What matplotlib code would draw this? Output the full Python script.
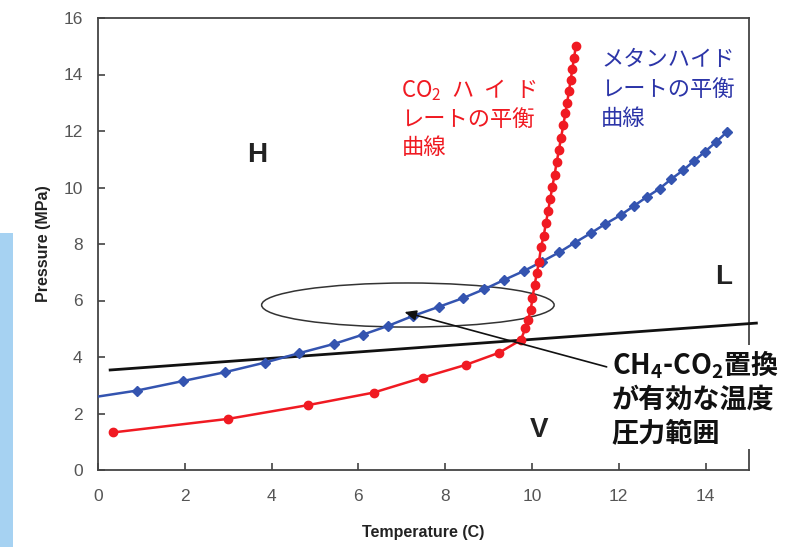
import matplotlib
matplotlib.use("Agg")
import matplotlib.pyplot as plt
from matplotlib.patches import Ellipse, Rectangle

plt.rcParams['font.family'] = ['Liberation Sans', 'Noto Sans CJK JP', 'DejaVu Sans']
plt.rcParams['mathtext.fontset'] = 'custom'
plt.rcParams['mathtext.rm'] = 'Noto Sans CJK JP'
plt.rcParams['mathtext.it'] = 'Noto Sans CJK JP'
plt.rcParams['mathtext.bf'] = 'Noto Sans CJK JP:bold'
plt.rcParams['mathtext.default'] = 'rm'

# ---- data ----
ch4_T = [0.0, 0.89, 1.96, 2.92, 3.84, 4.62, 5.43, 6.10, 6.68, 7.25, 7.86, 8.40, 8.90,
         9.36, 9.82, 10.22, 10.62, 10.99, 11.35, 11.69, 12.04, 12.36, 12.65, 12.94,
         13.21, 13.49, 13.74, 13.98, 14.24, 14.49]
ch4_P = [2.60, 2.81, 3.15, 3.46, 3.80, 4.13, 4.46, 4.79, 5.10, 5.45, 5.78, 6.08, 6.40,
         6.73, 7.05, 7.37, 7.70, 8.05, 8.38, 8.71, 9.02, 9.36, 9.67, 9.96,
         10.30, 10.62, 10.95, 11.26, 11.61, 11.96]

co2_T = [0.35, 3.00, 4.85, 6.35, 7.48, 8.47, 9.24, 9.74, 9.85, 9.91, 9.97, 10.01, 10.06,
         10.11, 10.16, 10.21, 10.27, 10.32, 10.37, 10.42, 10.47, 10.52, 10.57, 10.62,
         10.67, 10.72, 10.77, 10.81, 10.85, 10.89, 10.93, 10.97, 11.01]
co2_P = [1.33, 1.81, 2.30, 2.74, 3.27, 3.72, 4.15, 4.60, 5.02, 5.31, 5.66, 6.08, 6.55,
         6.96, 7.37, 7.90, 8.30, 8.73, 9.16, 9.60, 10.03, 10.46, 10.90, 11.33,
         11.76, 12.20, 12.63, 13.00, 13.40, 13.80, 14.20, 14.60, 15.00]

boundary_T = [0.28, 15.17]
boundary_P = [3.54, 5.20]

x_ticks = [0, 2, 4, 6, 8, 10, 12, 14]
y_ticks = [0, 2, 4, 6, 8, 10, 12, 14, 16]

co2_label = "CO$_2$  ハ  イ  ド\nレートの平衡\n曲線"
ch4_label = "メタンハイド\nレートの平衡\n曲線"
note_label = "CH$_\\mathbf{4}$-CO$_\\mathbf{2}$置換\nが有効な温度\n圧力範囲"

RED = '#f01a22'
BLUE = '#3454b0'
CJK = 'Noto Sans CJK JP'

fig = plt.figure(figsize=(8.0, 5.47), dpi=100)
fig.patches.append(Rectangle((0, 0), 13 / 800, (547 - 233) / 547, transform=fig.transFigure,
                             facecolor='#a6d2f2', edgecolor='none', zorder=0))
ax = fig.add_axes([98 / 800, 1 - 470 / 547, (749 - 98) / 800, (470 - 18) / 547])

ax.set_xlim(0, 15)
ax.set_ylim(0, 16)

# boundary line
ax.plot(boundary_T, boundary_P, color='#111111', lw=2.0, clip_on=False, zorder=3)

# methane hydrate curve
ax.plot(ch4_T, ch4_P, color=BLUE, lw=1.8, marker='D', ms=4.6, mfc=BLUE, mec=BLUE,
        markevery=list(range(1, len(ch4_T))), zorder=4)
# CO2 hydrate curve
ax.plot(co2_T, co2_P, color=RED, lw=1.8, marker='o', ms=6.0, mfc=RED, mec=RED, zorder=5)

# ellipse
ax.add_patch(Ellipse((7.14, 5.84), 6.74, 1.56, fill=False, ec='#333333', lw=1.1, zorder=2))

# arrow
ax.annotate('', xy=(7.06, 5.59), xytext=(11.72, 3.65),
            arrowprops=dict(arrowstyle='-|>,head_length=0.7,head_width=0.3',
                            color='#111111', lw=1.2, shrinkA=0, shrinkB=0), zorder=6)

# labels
ax.text(6.99, 13.92, co2_label, color=RED, fontsize=16, family=CJK,
        ha='left', va='top', linespacing=1.3)
ax.text(11.59, 14.95, ch4_label, color='#2c35a8', fontsize=16, family=CJK,
        ha='left', va='top', linespacing=1.38)
ax.text(11.84, 4.30, note_label, color='#111111', fontsize=19.5, fontweight='bold', family=CJK,
        ha='left', va='top', linespacing=1.22, zorder=10, clip_on=False,
        bbox=dict(facecolor='white', edgecolor='none', pad=2))

ax.text(3.66, 11.15, 'H', fontsize=20, fontweight='bold', color='#222222', ha='center', va='center')
ax.text(14.41, 6.83, 'L', fontsize=20, fontweight='bold', color='#222222', ha='center', va='center')
ax.text(10.16, 1.42, 'V', fontsize=20, fontweight='bold', color='#222222', ha='center', va='center')

# axes styling
ax.set_xticks(x_ticks)
ax.set_yticks(y_ticks)
ax.tick_params(direction='in', length=5, width=1.1, color='#333333', labelcolor='#555555',
               labelsize=12.5)
ax.tick_params(axis='x', pad=14)
ax.tick_params(axis='y', pad=11)
for s in ax.spines.values():
    s.set_color('#444444')
    s.set_linewidth(1.3)

ax.set_xlabel('Temperature (C)', fontsize=11.5, fontweight='bold', color='#222222')
ax.set_ylabel('Pressure (MPa)', fontsize=11.5, fontweight='bold', color='#222222')
ax.xaxis.set_label_coords(0.5, -0.122)
ax.yaxis.set_label_coords(-0.072, 0.5)

fig.savefig('out.png', dpi=100)
